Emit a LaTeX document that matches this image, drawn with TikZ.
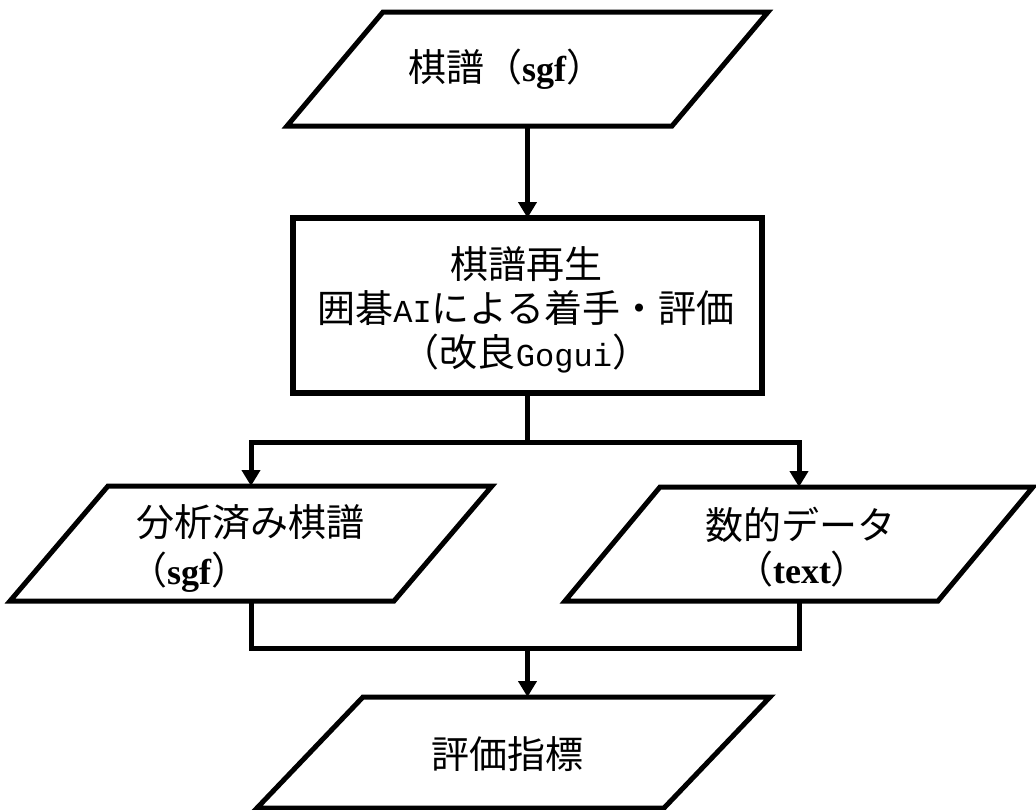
\documentclass[tikz,border=0pt]{standalone}
\usepackage{fontspec}
\setmainfont{Liberation Serif}
\newfontfamily\jp{Noto Sans CJK JP}
\newfontfamily\monofam{Liberation Mono}
\usetikzlibrary{arrows.meta}
\newcommand\lat[1]{{\rmfamily\bfseries\fontsize{36}{44}\selectfont #1}}
\newcommand\hw[1]{{\monofam\fontsize{32}{44}\selectfont #1}}
\newcommand\drawpara[2]{\draw[line] ([xshift=#2]#1.north west) -- (#1.north east) -- ([xshift=-#2]#1.south east) -- (#1.south west) -- cycle;}
\begin{document}
\begin{tikzpicture}[x=1pt,y=-1pt,
  line/.style={line width=5pt, line join=miter},
  arr/.style={line width=5pt, -{Triangle[length=16pt,width=18pt]}},
  shp/.style={rectangle, inner sep=0pt, outer sep=0pt},
  txt/.style={font=\fontsize{38}{44}\selectfont\jp, align=center, inner sep=0pt}]
\useasboundingbox (0,0) rectangle (1036,809);
% shapes
\node[shp, minimum width=481pt, minimum height=114pt] (src) at (527.5,69) {};
\node[shp, draw, line width=6.5pt, minimum width=469pt, minimum height=175pt] (proc) at (527.5,305.5) {};
\node[shp, minimum width=482pt, minimum height=115pt] (L) at (251,543.5) {};
\node[shp, minimum width=468pt, minimum height=114pt] (R) at (799,544) {};
\node[shp, minimum width=513pt, minimum height=111pt] (B) at (513.5,752.5) {};
\drawpara{src}{96pt}
\drawpara{L}{98pt}
\drawpara{R}{95pt}
\drawpara{B}{106pt}
% texts
\node[txt] (srct) at (506,69) {棋譜（\lat{sgf}）};
\node[txt] (proct) at (526,310) {棋譜再生\\囲碁\hw{AI}による着手・評価\\（改良\hw{Gogui}）};
\node[txt] (Lt1) at (250,522) {分析済み棋譜};
\node[txt] (Lt2) at (189,572) {（\lat{sgf}）};
\node[txt] (Rt1) at (800,525) {数的データ};
\node[txt] (Rt2) at (802,569) {（\lat{text}）};
\node[txt] (Bt) at (507,754) {評価指標};
% connectors
\coordinate (split) at (527.5,442);
\coordinate (merge) at (527.5,648);
\draw[arr] (src.south) -- (proc.north);
\draw[line] (proc.south) -- (split);
\draw[arr] (split) -| (L.north);
\draw[arr] (split) -| (R.north);
\draw[line] (L.south) |- (merge) -| (R.south);
\draw[arr] (merge) -- (merge |- B.north);
\end{tikzpicture}
\end{document}
